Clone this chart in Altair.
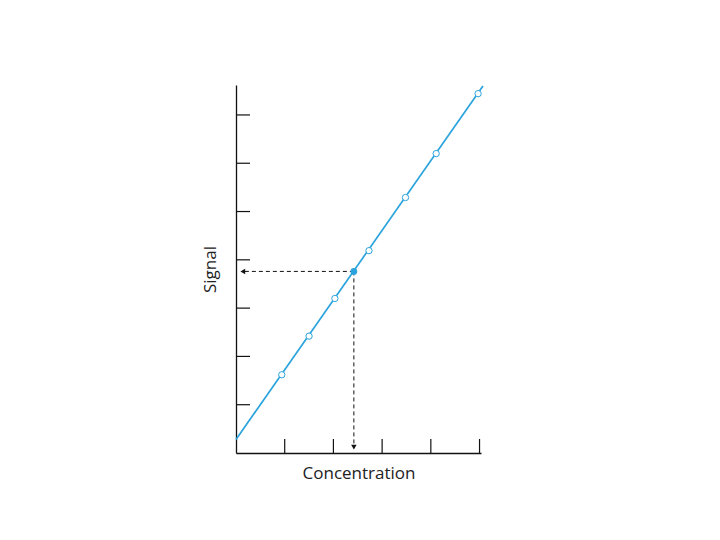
import altair as alt
import pandas as pd

# Standards (open circles)
std_conc = [0.94, 1.50, 2.03, 2.73, 3.48, 4.11, 4.97]
std_signal = [1.62, 2.42, 3.20, 4.19, 5.29, 6.20, 7.44]

# Unknown sample (filled circle)
unk_conc = [2.42]
unk_signal = [3.76]

# Calibration line end points
fit_conc = [0.0, 5.07]
fit_signal = [0.28, 7.60]

# Tick positions (no labels)
x_ticks = [1, 2, 3, 4, 5]
y_ticks = [1, 2, 3, 4, 5, 6, 7]

W, H = 245, 368
XDOM = [0, 5.03]
YDOM = [0, 7.62]
BLUE = "#2ba3dc"

xs = alt.Scale(domain=XDOM, nice=False, zero=False)
ys = alt.Scale(domain=YDOM, nice=False, zero=False)

std_df = pd.DataFrame({"c": std_conc, "s": std_signal})
unk_df = pd.DataFrame({"c": unk_conc, "s": unk_signal})
fit_df = pd.DataFrame({"c": fit_conc, "s": fit_signal})
xt_df = pd.DataFrame({"t": x_ticks})
yt_df = pd.DataFrame({"t": y_ticks})

base_x = alt.X("c:Q", scale=xs,
               axis=alt.Axis(title="Concentration", ticks=False, labels=False, grid=False,
                             domainColor="#111", domainWidth=1.3, titlePadding=12,
                             titleFont="Open Sans", titleFontSize=17, titleFontWeight="normal",
                             titleColor="#222"))
base_y = alt.Y("s:Q", scale=ys,
               axis=alt.Axis(title="Signal", ticks=False, labels=False, grid=False,
                             domainColor="#111", domainWidth=1.3, titlePadding=17,
                             titleFont="Open Sans", titleFontSize=17, titleFontWeight="normal",
                             titleColor="#222"))

line = alt.Chart(fit_df).mark_line(color=BLUE, strokeWidth=1.7).encode(x=base_x, y=base_y)

xticks = alt.Chart(xt_df).mark_rule(color="#111", strokeWidth=1.2).encode(
    x=alt.X("t:Q", scale=xs), y=alt.value(H), y2=alt.value(H - 14))
yticks = alt.Chart(yt_df).mark_rule(color="#111", strokeWidth=1.2).encode(
    y=alt.Y("t:Q", scale=ys), x=alt.value(0), x2=alt.value(14))

hdash = alt.Chart(unk_df).mark_rule(color="#111", strokeWidth=1, strokeDash=[4, 3]).encode(
    x=alt.X("c:Q", scale=xs), x2=alt.datum(0.12), y=alt.Y("s:Q", scale=ys))
vdash = alt.Chart(unk_df).mark_rule(color="#111", strokeWidth=1, strokeDash=[4, 3]).encode(
    x=alt.X("c:Q", scale=xs), y=alt.Y("s:Q", scale=ys), y2=alt.datum(0.1))

larrow = alt.Chart(unk_df).mark_point(shape="triangle-left", filled=True, color="#111",
                                      size=30, opacity=1).encode(
    x=alt.datum(0.14), y=alt.Y("s:Q", scale=ys))
darrow = alt.Chart(unk_df).mark_point(shape="triangle-down", filled=True, color="#111",
                                      size=30, opacity=1).encode(
    x=alt.X("c:Q", scale=xs), y=alt.datum(0.12))

stds = alt.Chart(std_df).mark_point(shape="circle", filled=True, fill="white", stroke=BLUE,
                                    strokeWidth=1, size=40, opacity=1).encode(
    x=alt.X("c:Q", scale=xs), y=alt.Y("s:Q", scale=ys))
unk = alt.Chart(unk_df).mark_point(shape="circle", filled=True, color=BLUE,
                                   size=45, opacity=1).encode(
    x=alt.X("c:Q", scale=xs), y=alt.Y("s:Q", scale=ys))

chart = alt.layer(line, xticks, yticks, hdash, vdash, larrow, darrow, stds, unk).properties(
    width=W, height=H,
    background="white",
    autosize=alt.AutoSizeParams(type="none"),
    padding={"left": 228, "top": 77, "right": 231, "bottom": 79},
).configure_view(stroke=None)

chart.save("out.html", embed_options={"renderer": "svg", "actions": False})
